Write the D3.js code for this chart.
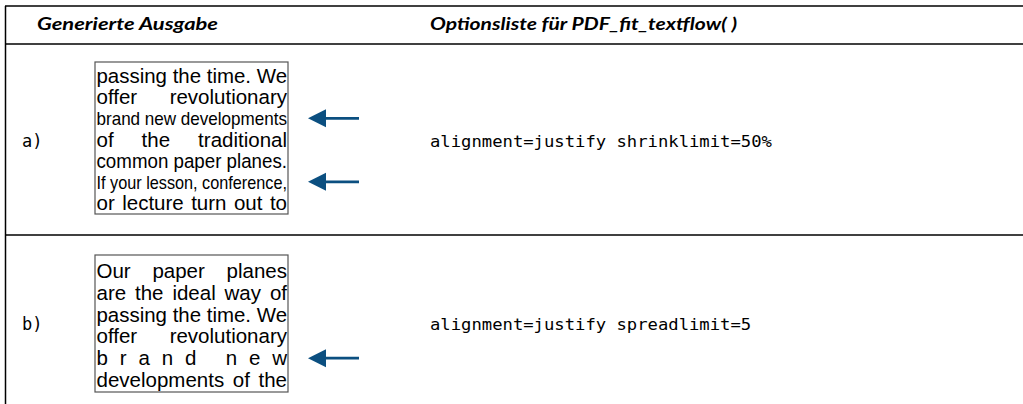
<!DOCTYPE html>
<html><head><meta charset="utf-8">
<script src="https://cdn.jsdelivr.net/npm/d3@7"></script>
<style>html,body{margin:0;padding:0;background:#fff;}svg{display:block;}</style>
</head><body>
<svg id="c" width="1023" height="404"></svg>
<script>
// ---- data ----
const headers = ["Generierte Ausgabe", "Optionsliste für PDF_fit_textflow( )"];
const rowLabels = ["a)", "b)"];
const optionTexts = ["alignment=justify shrinklimit=50%", "alignment=justify spreadlimit=5"];
const linesA = ["passing the time. We", "offer revolutionary", "brand new developments", "of the traditional", "common paper planes.", "If your lesson, conference,", "or lecture turn out to"];
const modesA = ["justify", "justify", "shrink", "justify", "justify", "shrink", "justify"];
const linesB = ["Our paper planes", "are the ideal way of", "passing the time. We", "offer revolutionary", "brand new", "developments of the"];
const modesB = ["justify", "justify", "justify", "justify", "spread", "justify"];
const arrowsA = [2, 5];
const arrowsB = [4];

// ---- layout ----
const svg = d3.select("#c");
const W = 1023, H = 404;
const arrowColor = "#0b4f80";
const boxes = [
  {x: 95, y0: 62, y1: 214, first: 83, last: 210, lines: linesA, modes: modesA, arrows: arrowsA, optY: 147},
  {x: 95, y0: 255, y1: 392, first: 278, last: 387, lines: linesB, modes: modesB, arrows: arrowsB, optY: 330}
];
const boxW = 193;

// table rules
const g = svg.append("g");
[6, 44, 235].forEach(y => g.append("line").attr("x1", 5).attr("x2", W).attr("y1", y).attr("y2", y)
  .attr("stroke", "#000").attr("stroke-width", 1.5));
g.append("line").attr("x1", 5.5).attr("x2", 5.5).attr("y1", 6).attr("y2", H).attr("stroke", "#000").attr("stroke-width", 1.5);

// headers
const headX = [37, 430], headW = [181, 307];
headers.forEach((h, i) => {
  g.append("text").attr("x", headX[i]).attr("y", 30).text(h)
    .attr("font-family", "Lato, 'Open Sans', sans-serif").attr("font-weight", 700).attr("font-style", "italic")
    .attr("font-size", 16.5).attr("fill", "#000")
    .attr("textLength", headW[i]).attr("lengthAdjust", "spacingAndGlyphs");
});

// rows
boxes.forEach((b, r) => {
  // label
  g.append("text").attr("x", 22).attr("y", b.optY).text(rowLabels[r])
    .attr("font-family", "'DejaVu Sans Mono', monospace").attr("font-size", 17).attr("fill", "#000");
  // option text
  g.append("text").attr("x", 430).attr("y", b.optY).text(optionTexts[r])
    .attr("font-family", "'DejaVu Sans Mono', monospace").attr("font-size", 16.5).attr("fill", "#000")
    .attr("textLength", optionTexts[r].length * 10.36).attr("lengthAdjust", "spacingAndGlyphs");

  // box
  g.append("rect").attr("x", b.x).attr("y", b.y0).attr("width", boxW).attr("height", b.y1 - b.y0)
    .attr("fill", "none").attr("stroke", "#555").attr("stroke-width", 1.2);

  const ys = d3.scalePoint().domain(d3.range(b.lines.length)).range([b.first, b.last]);
  const tx0 = b.x + 1.5, tw = boxW - 2.5;
  const font = "'Liberation Sans', Arial, sans-serif";
  b.lines.forEach((ln, i) => {
    const y = ys(i);
    const mode = b.modes[i];
    if (mode === "shrink") {
      g.append("text").attr("x", tx0).attr("y", y).text(ln)
        .attr("font-family", font).attr("font-size", 18.5).attr("fill", "#000")
        .attr("textLength", tw).attr("lengthAdjust", "spacingAndGlyphs");
    } else if (mode === "spread") {
      g.append("text").attr("x", tx0).attr("y", y).text(ln)
        .attr("font-family", font).attr("font-size", 20.5).attr("fill", "#000")
        .attr("textLength", tw).attr("lengthAdjust", "spacing");
    } else {
      const words = ln.split(" ");
      const nodes = words.map(w => g.append("text").attr("y", y).text(w)
        .attr("font-family", font).attr("font-size", 20.5).attr("fill", "#000"));
      const widths = nodes.map(n => n.node().getComputedTextLength());
      const total = d3.sum(widths);
      const space = 20.5 * 0.278;
      if (total + space * (words.length - 1) > tw) {
        nodes.forEach(n => n.remove());
        g.append("text").attr("x", tx0).attr("y", y).text(ln)
          .attr("font-family", font).attr("font-size", 20.5).attr("fill", "#000")
          .attr("textLength", tw).attr("lengthAdjust", "spacingAndGlyphs");
      } else {
        const gap = (tw - total) / (words.length - 1);
        let x = tx0;
        nodes.forEach((n, k) => { n.attr("x", x); x += widths[k] + gap; });
      }
    }
  });

  // arrows
  b.arrows.forEach(ai => {
    const y = ys(ai) - 7;
    const ag = g.append("g");
    ag.append("line").attr("x1", 324).attr("x2", 359).attr("y1", y).attr("y2", y)
      .attr("stroke", arrowColor).attr("stroke-width", 2.8);
    ag.append("path").attr("d", d3.line()([[308, y], [326, y - 9], [326, y + 9]]) + "Z")
      .attr("fill", arrowColor);
  });
});
</script>
</body></html>
